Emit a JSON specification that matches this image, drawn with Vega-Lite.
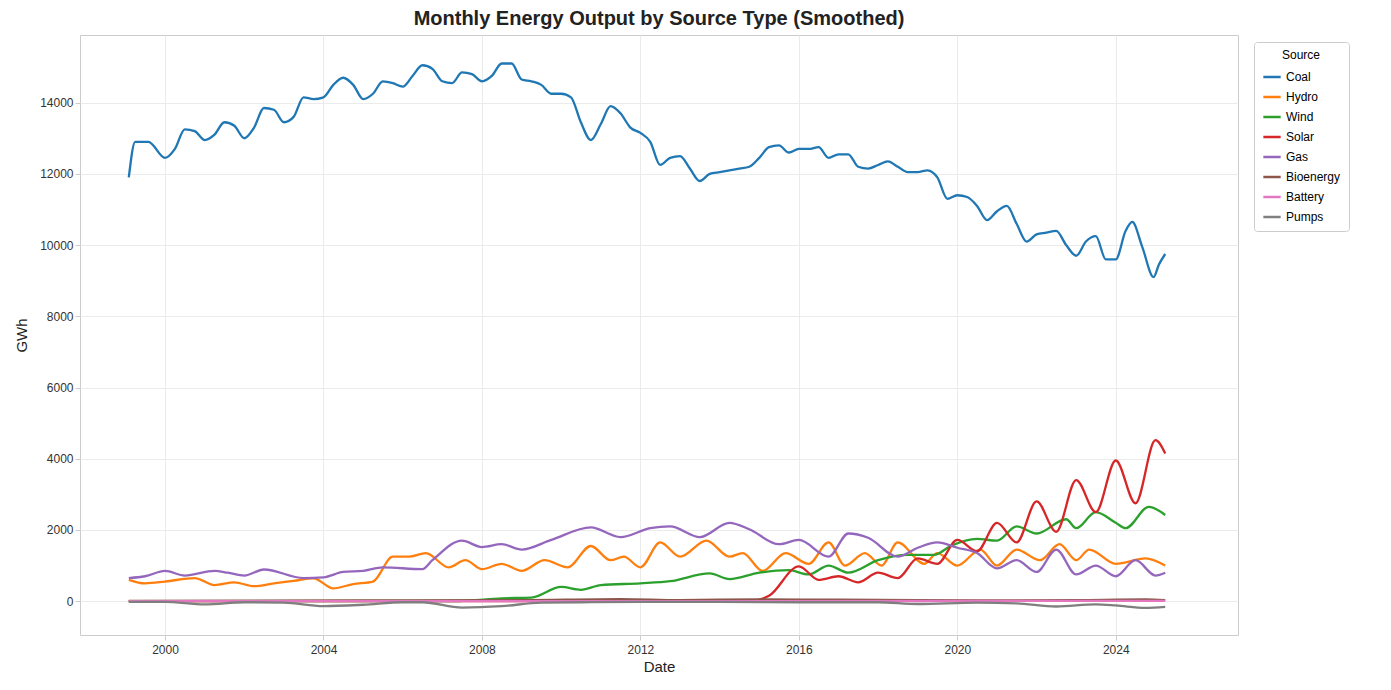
{
  "$schema": "https://vega.github.io/schema/vega-lite/v6.json",
  "width": 1158,
  "height": 600,
  "autosize": {"type": "none"},
  "padding": {"left": 80, "top": 35, "right": 153, "bottom": 55},
  "background": "#ffffff",
  "config": {
    "font": "Liberation Sans",
    "view": {"stroke": "#cccccc"},
    "axis": {"gridColor": "#ebebeb", "domain": false, "tickColor": "#cccccc", "labelFontSize": 12, "labelColor": "#333333", "titleFontSize": 15, "titleFontWeight": "normal", "titleColor": "#222222"}
  },
  "title": {"text": "Monthly Energy Output by Source Type (Smoothed)", "fontSize": 20, "fontWeight": "bold", "color": "#222222", "offset": 6},
  "data": {"values": [
    {"d":"1999-02-01","s":"Coal","v":11900},{"d":"1999-04-01","s":"Coal","v":12900},{"d":"1999-08-01","s":"Coal","v":12900},{"d":"2000-01-01","s":"Coal","v":12450},{"d":"2000-04-01","s":"Coal","v":12700},{"d":"2000-07-01","s":"Coal","v":13250},{"d":"2000-10-01","s":"Coal","v":13200},{"d":"2001-01-01","s":"Coal","v":12950},{"d":"2001-04-01","s":"Coal","v":13100},{"d":"2001-07-01","s":"Coal","v":13450},{"d":"2001-10-01","s":"Coal","v":13350},{"d":"2002-01-01","s":"Coal","v":13000},{"d":"2002-04-01","s":"Coal","v":13300},{"d":"2002-07-01","s":"Coal","v":13850},{"d":"2002-10-01","s":"Coal","v":13800},{"d":"2003-01-01","s":"Coal","v":13450},{"d":"2003-04-01","s":"Coal","v":13600},{"d":"2003-07-01","s":"Coal","v":14150},{"d":"2003-10-01","s":"Coal","v":14100},{"d":"2004-01-01","s":"Coal","v":14150},{"d":"2004-04-01","s":"Coal","v":14500},{"d":"2004-07-01","s":"Coal","v":14700},{"d":"2004-10-01","s":"Coal","v":14500},{"d":"2005-01-01","s":"Coal","v":14100},{"d":"2005-04-01","s":"Coal","v":14250},{"d":"2005-07-01","s":"Coal","v":14600},{"d":"2005-10-01","s":"Coal","v":14550},{"d":"2006-01-01","s":"Coal","v":14450},{"d":"2006-04-01","s":"Coal","v":14750},{"d":"2006-07-01","s":"Coal","v":15050},{"d":"2006-10-01","s":"Coal","v":14950},{"d":"2007-01-01","s":"Coal","v":14600},{"d":"2007-04-01","s":"Coal","v":14550},{"d":"2007-07-01","s":"Coal","v":14850},{"d":"2007-10-01","s":"Coal","v":14800},{"d":"2008-01-01","s":"Coal","v":14600},{"d":"2008-04-01","s":"Coal","v":14750},{"d":"2008-07-01","s":"Coal","v":15100},{"d":"2008-10-01","s":"Coal","v":15100},{"d":"2009-01-01","s":"Coal","v":14650},{"d":"2009-04-01","s":"Coal","v":14600},{"d":"2009-07-01","s":"Coal","v":14500},{"d":"2009-10-01","s":"Coal","v":14250},{"d":"2010-01-01","s":"Coal","v":14250},{"d":"2010-04-01","s":"Coal","v":14150},{"d":"2010-07-01","s":"Coal","v":13450},{"d":"2010-10-01","s":"Coal","v":12950},{"d":"2011-01-01","s":"Coal","v":13400},{"d":"2011-04-01","s":"Coal","v":13900},{"d":"2011-07-01","s":"Coal","v":13700},{"d":"2011-10-01","s":"Coal","v":13300},{"d":"2012-01-01","s":"Coal","v":13150},{"d":"2012-04-01","s":"Coal","v":12900},{"d":"2012-07-01","s":"Coal","v":12250},{"d":"2012-10-01","s":"Coal","v":12450},{"d":"2013-01-01","s":"Coal","v":12500},{"d":"2013-04-01","s":"Coal","v":12150},{"d":"2013-07-01","s":"Coal","v":11800},{"d":"2013-10-01","s":"Coal","v":12000},{"d":"2014-01-01","s":"Coal","v":12050},{"d":"2014-04-01","s":"Coal","v":12100},{"d":"2014-07-01","s":"Coal","v":12150},{"d":"2014-10-01","s":"Coal","v":12200},{"d":"2015-01-01","s":"Coal","v":12450},{"d":"2015-04-01","s":"Coal","v":12750},{"d":"2015-07-01","s":"Coal","v":12800},{"d":"2015-10-01","s":"Coal","v":12600},{"d":"2016-01-01","s":"Coal","v":12700},{"d":"2016-04-01","s":"Coal","v":12700},{"d":"2016-07-01","s":"Coal","v":12750},{"d":"2016-10-01","s":"Coal","v":12450},{"d":"2017-01-01","s":"Coal","v":12550},{"d":"2017-04-01","s":"Coal","v":12550},{"d":"2017-07-01","s":"Coal","v":12200},{"d":"2017-10-01","s":"Coal","v":12150},{"d":"2018-01-01","s":"Coal","v":12250},{"d":"2018-04-01","s":"Coal","v":12350},{"d":"2018-07-01","s":"Coal","v":12200},{"d":"2018-10-01","s":"Coal","v":12050},{"d":"2019-01-01","s":"Coal","v":12050},{"d":"2019-04-01","s":"Coal","v":12100},{"d":"2019-07-01","s":"Coal","v":11900},{"d":"2019-10-01","s":"Coal","v":11300},{"d":"2020-01-01","s":"Coal","v":11400},{"d":"2020-04-01","s":"Coal","v":11350},{"d":"2020-07-01","s":"Coal","v":11100},{"d":"2020-10-01","s":"Coal","v":10700},{"d":"2021-01-01","s":"Coal","v":10950},{"d":"2021-04-01","s":"Coal","v":11100},{"d":"2021-07-01","s":"Coal","v":10600},{"d":"2021-10-01","s":"Coal","v":10100},{"d":"2022-01-01","s":"Coal","v":10300},{"d":"2022-04-01","s":"Coal","v":10350},{"d":"2022-07-01","s":"Coal","v":10400},{"d":"2022-10-01","s":"Coal","v":10000},{"d":"2023-01-01","s":"Coal","v":9700},{"d":"2023-04-01","s":"Coal","v":10100},{"d":"2023-07-01","s":"Coal","v":10250},{"d":"2023-10-01","s":"Coal","v":9600},{"d":"2024-01-01","s":"Coal","v":9600},{"d":"2024-04-01","s":"Coal","v":10400},{"d":"2024-06-01","s":"Coal","v":10650},{"d":"2024-09-01","s":"Coal","v":9950},{"d":"2024-12-15","s":"Coal","v":9100},{"d":"2025-02-01","s":"Coal","v":9450},{"d":"2025-04-01","s":"Coal","v":9750},

    {"d":"1999-02-01","s":"Hydro","v":600},{"d":"1999-07-01","s":"Hydro","v":500},{"d":"2000-01-01","s":"Hydro","v":550},{"d":"2000-10-01","s":"Hydro","v":650},{"d":"2001-04-01","s":"Hydro","v":450},{"d":"2001-10-01","s":"Hydro","v":530},{"d":"2002-04-01","s":"Hydro","v":420},{"d":"2002-10-01","s":"Hydro","v":500},{"d":"2003-04-01","s":"Hydro","v":570},{"d":"2003-10-01","s":"Hydro","v":640},{"d":"2004-04-01","s":"Hydro","v":360},{"d":"2004-10-01","s":"Hydro","v":480},{"d":"2005-04-01","s":"Hydro","v":550},{"d":"2005-10-01","s":"Hydro","v":1250},{"d":"2006-03-01","s":"Hydro","v":1250},{"d":"2006-08-01","s":"Hydro","v":1350},{"d":"2007-03-01","s":"Hydro","v":950},{"d":"2007-08-01","s":"Hydro","v":1150},{"d":"2008-01-01","s":"Hydro","v":900},{"d":"2008-07-01","s":"Hydro","v":1050},{"d":"2009-01-01","s":"Hydro","v":850},{"d":"2009-08-01","s":"Hydro","v":1150},{"d":"2010-03-01","s":"Hydro","v":950},{"d":"2010-10-01","s":"Hydro","v":1550},{"d":"2011-04-01","s":"Hydro","v":1150},{"d":"2011-08-01","s":"Hydro","v":1250},{"d":"2012-01-01","s":"Hydro","v":950},{"d":"2012-07-01","s":"Hydro","v":1650},{"d":"2013-01-01","s":"Hydro","v":1250},{"d":"2013-09-01","s":"Hydro","v":1700},{"d":"2014-04-01","s":"Hydro","v":1250},{"d":"2014-08-01","s":"Hydro","v":1350},{"d":"2015-02-01","s":"Hydro","v":850},{"d":"2015-09-01","s":"Hydro","v":1350},{"d":"2016-04-01","s":"Hydro","v":1050},{"d":"2016-10-01","s":"Hydro","v":1650},{"d":"2017-03-01","s":"Hydro","v":1000},{"d":"2017-09-01","s":"Hydro","v":1350},{"d":"2018-02-01","s":"Hydro","v":1000},{"d":"2018-07-01","s":"Hydro","v":1650},{"d":"2019-03-01","s":"Hydro","v":1050},{"d":"2019-07-01","s":"Hydro","v":1350},{"d":"2020-01-01","s":"Hydro","v":1000},{"d":"2020-08-01","s":"Hydro","v":1450},{"d":"2021-01-01","s":"Hydro","v":1000},{"d":"2021-07-01","s":"Hydro","v":1450},{"d":"2022-02-01","s":"Hydro","v":1150},{"d":"2022-08-01","s":"Hydro","v":1600},{"d":"2023-01-01","s":"Hydro","v":1150},{"d":"2023-05-01","s":"Hydro","v":1450},{"d":"2024-01-01","s":"Hydro","v":1050},{"d":"2024-10-01","s":"Hydro","v":1200},{"d":"2025-04-01","s":"Hydro","v":1000},

    {"d":"1999-02-01","s":"Wind","v":0},{"d":"2007-06-01","s":"Wind","v":5},{"d":"2008-07-01","s":"Wind","v":80},{"d":"2009-04-01","s":"Wind","v":100},{"d":"2010-01-01","s":"Wind","v":400},{"d":"2010-07-01","s":"Wind","v":320},{"d":"2011-01-01","s":"Wind","v":450},{"d":"2012-01-01","s":"Wind","v":500},{"d":"2012-10-01","s":"Wind","v":560},{"d":"2013-10-01","s":"Wind","v":780},{"d":"2014-04-01","s":"Wind","v":620},{"d":"2015-01-01","s":"Wind","v":800},{"d":"2015-10-01","s":"Wind","v":870},{"d":"2016-04-01","s":"Wind","v":750},{"d":"2016-10-01","s":"Wind","v":1000},{"d":"2017-04-01","s":"Wind","v":800},{"d":"2018-01-01","s":"Wind","v":1150},{"d":"2018-10-01","s":"Wind","v":1300},{"d":"2019-06-01","s":"Wind","v":1300},{"d":"2019-11-01","s":"Wind","v":1550},{"d":"2020-07-01","s":"Wind","v":1750},{"d":"2021-01-01","s":"Wind","v":1700},{"d":"2021-07-01","s":"Wind","v":2100},{"d":"2022-01-01","s":"Wind","v":1900},{"d":"2022-10-01","s":"Wind","v":2300},{"d":"2023-01-01","s":"Wind","v":2050},{"d":"2023-07-01","s":"Wind","v":2500},{"d":"2024-01-01","s":"Wind","v":2200},{"d":"2024-04-01","s":"Wind","v":2050},{"d":"2024-11-01","s":"Wind","v":2650},{"d":"2025-04-01","s":"Wind","v":2420},

    {"d":"1999-02-01","s":"Solar","v":0},{"d":"2014-10-01","s":"Solar","v":5},{"d":"2015-04-01","s":"Solar","v":150},{"d":"2016-01-01","s":"Solar","v":980},{"d":"2016-07-01","s":"Solar","v":600},{"d":"2017-01-01","s":"Solar","v":700},{"d":"2017-07-01","s":"Solar","v":530},{"d":"2018-01-01","s":"Solar","v":800},{"d":"2018-07-01","s":"Solar","v":650},{"d":"2019-01-01","s":"Solar","v":1200},{"d":"2019-07-01","s":"Solar","v":1050},{"d":"2020-01-01","s":"Solar","v":1720},{"d":"2020-07-01","s":"Solar","v":1400},{"d":"2021-01-01","s":"Solar","v":2200},{"d":"2021-07-01","s":"Solar","v":1650},{"d":"2022-01-01","s":"Solar","v":2800},{"d":"2022-07-01","s":"Solar","v":1950},{"d":"2023-01-01","s":"Solar","v":3400},{"d":"2023-07-01","s":"Solar","v":2500},{"d":"2024-01-01","s":"Solar","v":3950},{"d":"2024-07-01","s":"Solar","v":2750},{"d":"2025-01-01","s":"Solar","v":4520},{"d":"2025-04-01","s":"Solar","v":4150},

    {"d":"1999-02-01","s":"Gas","v":650},{"d":"1999-07-01","s":"Gas","v":700},{"d":"2000-01-01","s":"Gas","v":850},{"d":"2000-07-01","s":"Gas","v":720},{"d":"2001-04-01","s":"Gas","v":850},{"d":"2001-08-01","s":"Gas","v":800},{"d":"2002-01-01","s":"Gas","v":720},{"d":"2002-07-01","s":"Gas","v":890},{"d":"2003-07-01","s":"Gas","v":650},{"d":"2004-01-01","s":"Gas","v":670},{"d":"2004-07-01","s":"Gas","v":820},{"d":"2005-01-01","s":"Gas","v":850},{"d":"2005-07-01","s":"Gas","v":950},{"d":"2006-07-01","s":"Gas","v":900},{"d":"2006-10-01","s":"Gas","v":1150},{"d":"2007-07-01","s":"Gas","v":1700},{"d":"2008-01-01","s":"Gas","v":1520},{"d":"2008-07-01","s":"Gas","v":1600},{"d":"2009-01-01","s":"Gas","v":1450},{"d":"2009-10-01","s":"Gas","v":1720},{"d":"2010-10-01","s":"Gas","v":2070},{"d":"2011-07-01","s":"Gas","v":1800},{"d":"2012-04-01","s":"Gas","v":2050},{"d":"2012-10-01","s":"Gas","v":2100},{"d":"2013-07-01","s":"Gas","v":1800},{"d":"2014-04-01","s":"Gas","v":2200},{"d":"2014-10-01","s":"Gas","v":2020},{"d":"2015-07-01","s":"Gas","v":1600},{"d":"2016-01-01","s":"Gas","v":1720},{"d":"2016-10-01","s":"Gas","v":1250},{"d":"2017-04-01","s":"Gas","v":1900},{"d":"2017-10-01","s":"Gas","v":1780},{"d":"2018-07-01","s":"Gas","v":1250},{"d":"2019-01-01","s":"Gas","v":1500},{"d":"2019-07-01","s":"Gas","v":1650},{"d":"2020-01-01","s":"Gas","v":1500},{"d":"2020-07-01","s":"Gas","v":1350},{"d":"2021-01-01","s":"Gas","v":920},{"d":"2021-07-01","s":"Gas","v":1150},{"d":"2022-01-01","s":"Gas","v":820},{"d":"2022-07-01","s":"Gas","v":1450},{"d":"2023-01-01","s":"Gas","v":750},{"d":"2023-07-01","s":"Gas","v":1000},{"d":"2024-01-01","s":"Gas","v":700},{"d":"2024-07-01","s":"Gas","v":1150},{"d":"2025-01-01","s":"Gas","v":720},{"d":"2025-04-01","s":"Gas","v":800},

    {"d":"1999-02-01","s":"Bioenergy","v":10},{"d":"2005-01-01","s":"Bioenergy","v":20},{"d":"2009-01-01","s":"Bioenergy","v":30},{"d":"2011-07-01","s":"Bioenergy","v":60},{"d":"2013-01-01","s":"Bioenergy","v":30},{"d":"2015-01-01","s":"Bioenergy","v":50},{"d":"2017-01-01","s":"Bioenergy","v":40},{"d":"2019-01-01","s":"Bioenergy","v":30},{"d":"2021-01-01","s":"Bioenergy","v":20},{"d":"2023-01-01","s":"Bioenergy","v":30},{"d":"2024-10-01","s":"Bioenergy","v":50},{"d":"2025-04-01","s":"Bioenergy","v":30},

    {"d":"1999-02-01","s":"Battery","v":0},{"d":"2010-01-01","s":"Battery","v":0},{"d":"2020-01-01","s":"Battery","v":5},{"d":"2025-04-01","s":"Battery","v":10},

    {"d":"1999-02-01","s":"Pumps","v":-20},{"d":"2000-01-01","s":"Pumps","v":-20},{"d":"2001-01-01","s":"Pumps","v":-90},{"d":"2002-01-01","s":"Pumps","v":-30},{"d":"2003-01-01","s":"Pumps","v":-40},{"d":"2004-01-01","s":"Pumps","v":-140},{"d":"2005-01-01","s":"Pumps","v":-100},{"d":"2006-01-01","s":"Pumps","v":-30},{"d":"2006-07-01","s":"Pumps","v":-30},{"d":"2007-07-01","s":"Pumps","v":-180},{"d":"2008-07-01","s":"Pumps","v":-140},{"d":"2009-07-01","s":"Pumps","v":-40},{"d":"2010-07-01","s":"Pumps","v":-30},{"d":"2012-01-01","s":"Pumps","v":-20},{"d":"2014-01-01","s":"Pumps","v":-20},{"d":"2016-01-01","s":"Pumps","v":-30},{"d":"2018-01-01","s":"Pumps","v":-30},{"d":"2019-01-01","s":"Pumps","v":-80},{"d":"2020-07-01","s":"Pumps","v":-40},{"d":"2021-07-01","s":"Pumps","v":-60},{"d":"2022-07-01","s":"Pumps","v":-150},{"d":"2023-07-01","s":"Pumps","v":-90},{"d":"2024-01-01","s":"Pumps","v":-120},{"d":"2024-10-01","s":"Pumps","v":-190},{"d":"2025-04-01","s":"Pumps","v":-160}
  ]},
  "mark": {"type": "line", "interpolate": "monotone", "strokeWidth": 2.3, "clip": true},
  "encoding": {
    "x": {"field": "d", "type": "temporal", "title": "Date",
      "scale": {"domain": ["1997-11-08", "2027-02-01"]},
      "axis": {"values": ["2000-01-01", "2004-01-01", "2008-01-01", "2012-01-01", "2016-01-01", "2020-01-01", "2024-01-01"], "format": "%Y", "labelPadding": 4}},
    "y": {"field": "v", "type": "quantitative", "title": "GWh",
      "scale": {"domain": [-950, 15900], "nice": false, "zero": false},
      "axis": {"values": [0, 2000, 4000, 6000, 8000, 10000, 12000, 14000], "format": "d", "titlePadding": 10}},
    "color": {"field": "s", "type": "nominal",
      "scale": {"domain": ["Coal", "Hydro", "Wind", "Solar", "Gas", "Bioenergy", "Battery", "Pumps"],
        "range": ["#1f77b4", "#ff7f0e", "#2ca02c", "#d62728", "#9467bd", "#8c564b", "#e377c2", "#7f7f7f"]},
      "legend": {"title": "Source", "orient": "none", "legendX": 1174, "legendY": 7, "titleAnchor": "middle", "titleFontWeight": "normal", "titleFontSize": 12, "labelFontSize": 12, "symbolType": "stroke", "symbolStrokeWidth": 2.5, "symbolSize": 300, "strokeColor": "#cccccc", "padding": 8, "cornerRadius": 3, "rowPadding": 4}},
    "detail": {"field": "s"},
    "order": {"value": 0}
  }
}
